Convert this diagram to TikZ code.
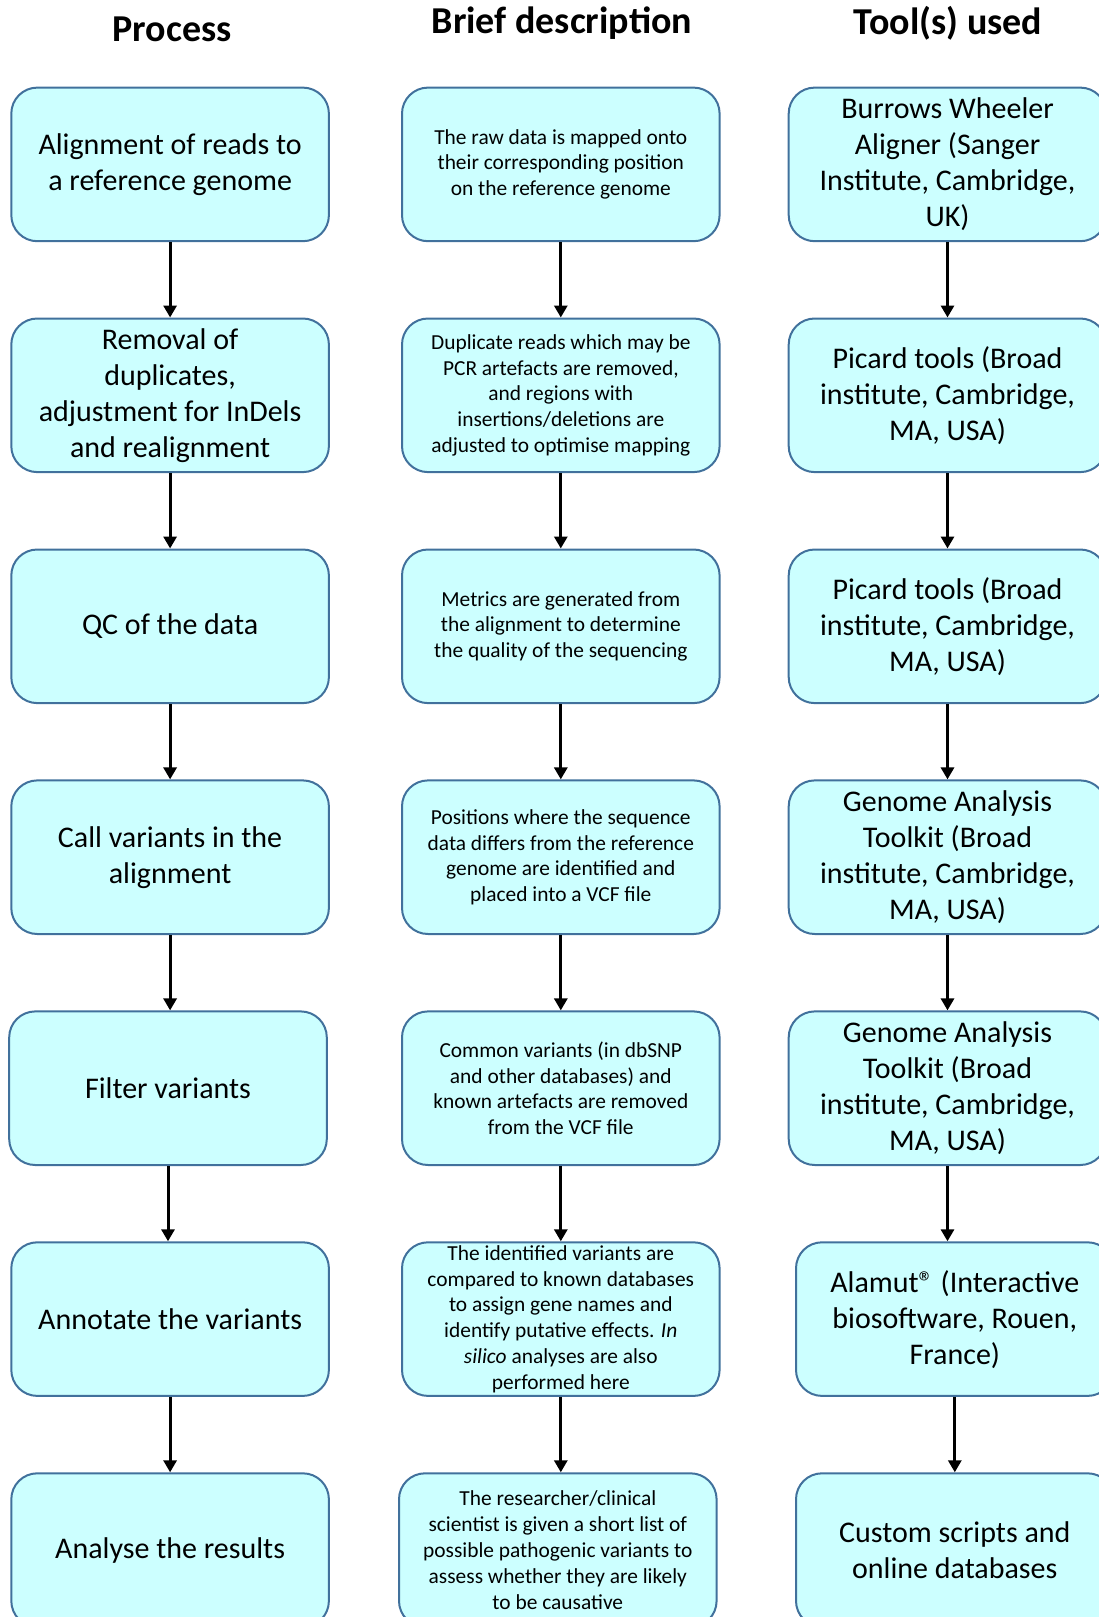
\documentclass[tikz,border=0pt]{standalone}
\usepackage{fontspec}
\setmainfont{Carlito}
\usetikzlibrary{arrows.meta}
\definecolor{boxfill}{HTML}{CCFFFF}
\definecolor{boxline}{HTML}{41719C}
\begin{document}
\begin{tikzpicture}[x=1pt,y=-1pt,
  box/.style={draw=boxline,fill=boxfill,line width=2pt,rounded corners=26pt,
    minimum width=317.6pt,minimum height=153.6pt,anchor=north west,inner sep=0pt,
    align=center},
  big/.style={box,font=\fontsize{30}{36}\selectfont},
  small/.style={box,font=\fontsize{21.4}{25.8}\selectfont},
  head/.style={font=\fontsize{38}{44}\selectfont\bfseries,inner sep=0pt},
  arr/.style={line width=3pt,-{Triangle[length=12pt,width=13pt]}}]
\useasboundingbox (0,0) rectangle (1099,1617);
\begin{scope}
\clip (0,0) rectangle (1099,1617);
\node[head] (h1) at (172,29) {Process};
\node[head] (h2) at (562,23) {Brief description};
\node[head] (h3) at (948,23) {Tool(s) used};
% column 1
\node[big] (a1) at (10.3,86.6) {Alignment of reads to\\a reference genome};
\node[big] (a2) at (10.3,317.5) {Removal of\\duplicates,\\adjustment for InDels\\and realignment};
\node[big] (a3) at (10.3,548.5) {QC of the data};
\node[big] (a4) at (10.3,779.4) {Call variants in the\\alignment};
\node[big] (a5) at (8.2,1010.4) {Filter variants};
\node[big] (a6) at (10.3,1241.3) {Annotate the variants};
\node[big] (a7) at (10.3,1472.3) {Analyse the results};
% column 2
\node[small] (b1) at (401,86.6) {The raw data is mapped onto\\their corresponding position\\on the reference genome};
\node[small] (b2) at (401,317.5) {Duplicate reads which may be\\PCR artefacts are removed,\\and regions with\\insertions/deletions are\\adjusted to optimise mapping};
\node[small] (b3) at (401,548.5) {Metrics are generated from\\the alignment to determine\\the quality of the sequencing};
\node[small] (b4) at (401,779.4) {Positions where the sequence\\data differs from the reference\\genome are identified and\\placed into a VCF file};
\node[small] (b5) at (401,1010.4) {Common variants (in dbSNP\\and other databases) and\\known artefacts are removed\\from the VCF file};
\node[small] (b6) at (401,1241.3) {The identified variants are\\compared to known databases\\to assign gene names and\\identify putative effects. \textit{In}\\\textit{silico} analyses are also\\performed here};
\node[small] (b7) at (398,1472.3) {The researcher/clinical\\scientist is given a short list of\\possible pathogenic variants to\\assess whether they are likely\\to be causative};
% column 3
\node[big] (c1) at (787.7,86.6) {Burrows Wheeler\\Aligner (Sanger\\Institute, Cambridge,\\UK)};
\node[big] (c2) at (787.7,317.5) {Picard tools (Broad\\institute, Cambridge,\\MA, USA)};
\node[big] (c3) at (787.7,548.5) {Picard tools (Broad\\institute, Cambridge,\\MA, USA)};
\node[big] (c4) at (787.7,779.4) {Genome Analysis\\Toolkit (Broad\\institute, Cambridge,\\MA, USA)};
\node[big] (c5) at (787.7,1010.4) {Genome Analysis\\Toolkit (Broad\\institute, Cambridge,\\MA, USA)};
\node[big] (c6) at (795,1241.3) {Alamut® (Interactive\\biosoftware, Rouen,\\France)};
\node[big] (c7) at (795,1472.3) {Custom scripts and\\online databases};
% arrows
\foreach \p/\n in {1/2,2/3,3/4,4/5,5/6,6/7}{
  \draw[arr] (a\p.south) -- (a\p.south |- a\n.north);
  \draw[arr] (b\p.south) -- (b\p.south |- b\n.north);
  \draw[arr] (c\p.south) -- (c\p.south |- c\n.north);
}
\end{scope}
\end{tikzpicture}
\end{document}
